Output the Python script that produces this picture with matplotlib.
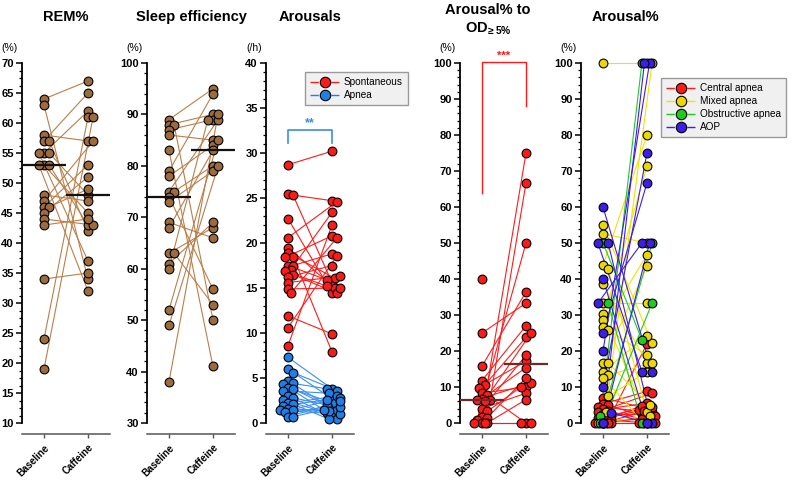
import matplotlib.pyplot as plt
import numpy as np
from matplotlib.ticker import MultipleLocator
from matplotlib.lines import Line2D

plt.rcParams['font.family'] = ['Liberation Sans', 'DejaVu Sans']
plt.rcParams['mathtext.fontset'] = 'custom'
plt.rcParams['mathtext.rm'] = 'Liberation Sans'
plt.rcParams['mathtext.bf'] = 'Liberation Sans:bold'

groups = ['Baseline', 'Caffeine']

# REM% (paired by index)
rem_base = [64, 63, 58, 57, 57, 55, 55, 55, 53, 53, 53, 48, 47, 46, 46, 45, 44, 43, 34, 24, 19]
rem_caff = [67, 34, 57, 65, 42, 62, 48, 37, 45, 43, 32, 47, 57, 53, 49, 51, 43, 44, 35, 61, 61]

# Sleep efficiency
se_base = [89, 88, 88, 87, 86, 83, 79, 78, 75, 75, 74, 73, 69, 68, 63, 63, 61, 60, 52, 49, 38]
se_caff = [95, 90, 50, 89, 85, 41, 94, 84, 89, 80, 56, 79, 66, 83, 68, 53, 69, 89, 85, 80, 90]

# Arousals (/h)
spont_base = [28.7, 25.4, 25.3, 22.7, 20.6, 19.5, 18.9, 18.5, 18.4, 17.5, 17.5, 17.0, 16.9, 16.5, 16.2, 15.6, 14.9, 14.4, 11.9, 10.6, 8.6]
spont_caff = [30.2, 24.7, 15.6, 14.5, 24.6, 15.0, 16.1, 7.9, 20.8, 15.9, 18.8, 23.4, 15.2, 14.4, 17.5, 16.3, 15.0, 20.6, 9.9, 18.6, 22.0]
apnea_base = [7.3, 6.0, 5.6, 4.7, 4.4, 4.3, 3.9, 3.8, 3.6, 3.0, 2.8, 2.6, 2.2, 2.1, 1.9, 1.6, 1.5, 1.4, 1.2, 0.7, 0.7]
apnea_caff = [3.8, 2.7, 3.6, 1.6, 3.8, 0.9, 2.2, 1.4, 3.3, 0.5, 2.0, 1.1, 3.0, 0.4, 2.6, 1.3, 2.8, 1.0, 1.8, 2.4, 1.5]

# Arousal% to OD>=5%
od_base = [40, 25, 15.8, 11.8, 10.5, 9.8, 8.3, 7.7, 6.7, 6.5, 6.5, 6.2, 4.0, 3.2, 1.8, 1.5, 0.8, 0, 0, 0, 0]
od_caff = [np.nan, 33.3, 36.4, 27, 23.8, 17.2, 10.0, 0, 15.4, 11.1, 18.8, 25, 8.3, 10.0, 75, 66.7, 50, 12.5, 6.5, 0, 0]

# Arousal% by event type
central_base = [7.0, 5.3, 5.0, 4.5, 3.8, 3.3, 3.0, 2.5, 2.0, 1.5, 1.2, 0.8, 0.5, 0, 0, 0, 0, 0]
central_caff = [4.0, 8.8, 1.5, 3.0, 5.5, 0.5, 8.3, 2.5, 22.0, 4.5, 3.5, 0, 1.0, 4.8, 2.0, 0, 3.2, 0]
mixed_base = [100, 55, 52.6, 43.8, 42.9, 38.5, 33.3, 30.3, 28.6, 26.7, 25.9, 16.7, 16.7, 14.3, 13.3, 12.5, 7.4, 3.0, 0]
mixed_caff = [100, 22.2, 50, 80, 3.0, 16.7, 33.3, 0, 71.4, 46.7, 18.8, 43.5, 5.0, 24.2, 16.7, 0, 14.3, 100, 2.0]
obstr_base = [50, 33.3, 2.0, 0, 0]
obstr_caff = [23.1, 0, 100, 50, 33.3]
aop_base = [60, 50, 50, 40, 33.3, 25, 20, 10, 2.9, 0, 0]
aop_caff = [14.3, 0, 14.3, 0, 50, 66.7, 100, 75, 0, 100, 50]

BROWN = '#9c6b3e'
BROWN_L = '#b97f4a'
RED = '#ff1a1a'
BLUE = '#1f7fe6'
YEL = '#ecd800'
GRN = '#1ecb1e'
AOP = '#3c1ee8'

W, H = 798, 488
fig = plt.figure(figsize=(W / 100, H / 100), dpi=100)

AX_W = 88
AX_TOP, AX_BOT = 63, 423


def make_ax(left):
    return fig.add_axes([left / W, 1 - AX_BOT / H, AX_W / W, (AX_BOT - AX_TOP) / H])


def swarm(vals, ppu, xppu=AX_W / 2, diam=8.5):
    placed, offs = [], []
    for v in vals:
        if np.isnan(v):
            offs.append(0.0)
            continue
        y = v * ppu
        best, best_d = 0.0, -1
        for k in (0, 1, -1, 2, -2, 3, -3):
            x = k * 0.3 * diam
            d = min((np.hypot(x - a, y - b) for a, b in placed), default=1e9)
            if d >= 0.6 * diam:
                best = x
                break
            if d > best_d:
                best, best_d = x, d
        placed.append((best, y))
        offs.append(best / xppu)
    return np.array(offs)


def style(ax, ymin, ymax, major, minor, unit):
    ax.set_xlim(-0.5, 1.5)
    ax.set_ylim(ymin, ymax)
    for s in ('top', 'right'):
        ax.spines[s].set_visible(False)
    ax.spines['bottom'].set_position(('outward', 8))
    ax.spines['bottom'].set_color('#555555')
    ax.spines['bottom'].set_linewidth(1.1)
    ax.spines['left'].set_linewidth(1.3)
    ax.yaxis.set_major_locator(MultipleLocator(major))
    ax.yaxis.set_minor_locator(MultipleLocator(minor))
    ax.tick_params(axis='y', which='major', length=4, width=1.1, labelsize=8, pad=2)
    ax.tick_params(axis='y', which='minor', length=2.2, width=0.9)
    ax.set_xticks([0, 1])
    ax.set_xticklabels(groups, rotation=45, ha='right', rotation_mode='anchor',
                       fontsize=7, fontweight='bold')
    ax.tick_params(axis='x', length=3, width=1, color='#555555', pad=3)
    ax.annotate(unit, xy=(0, 1), xycoords='axes fraction', xytext=(-3, 11),
                textcoords='offset points', ha='right', va='center', fontsize=7.5)


def paired(ax, base, caff, face, line, ppu):
    base = np.asarray(base, float)
    caff = np.asarray(caff, float)
    xb = 0 + swarm(base, ppu)
    xc = 1 + swarm(caff, ppu)
    for i in range(len(base)):
        if np.isnan(base[i]) or np.isnan(caff[i]):
            continue
        ax.plot([xb[i], xc[i]], [base[i], caff[i]], color=line, lw=0.8, zorder=2, clip_on=False)
    ax.scatter(xb, base, s=40, c=face, edgecolors='black', linewidths=0.8, zorder=3, clip_on=False)
    ax.scatter(xc, caff, s=40, c=face, edgecolors='black', linewidths=0.8, zorder=3, clip_on=False)


def medians(ax, base, caff, color):
    ax.hlines(np.nanmedian(base), -0.5, 0.5, color=color, lw=1.6, zorder=4, clip_on=False)
    ax.hlines(np.nanmedian(caff), 0.5, 1.5, color=color, lw=1.6, zorder=4, clip_on=False)


def title(x, y, s):
    fig.text(x / W, 1 - y / H, s, ha='center', va='center', fontsize=10.5, fontweight='bold')


def legend_handle(face, line):
    return Line2D([], [], color=line, lw=1.0, linestyle=(0, (6, 9)), marker='o',
                  markersize=7.5, markerfacecolor=face, markeredgecolor='black', markeredgewidth=0.8)


leg_kw = dict(loc='upper left', bbox_transform=fig.transFigure, fancybox=False,
              facecolor='#f0f0f0', edgecolor='#9a9a9a', framealpha=1, fontsize=7.2,
              handlelength=2.9, handletextpad=0.5, labelspacing=0.3, borderpad=0.5,
              borderaxespad=0)

PPU = (AX_BOT - AX_TOP)

# Panel 1: REM%
ax1 = make_ax(22)
style(ax1, 10, 70, 5, 1.25, '(%)')
paired(ax1, rem_base, rem_caff, BROWN, BROWN_L, PPU / 60)
medians(ax1, rem_base, rem_caff, '#111111')
title(66, 17, 'REM%')

# Panel 2: Sleep efficiency
ax2 = make_ax(147)
style(ax2, 30, 100, 10, 2, '(%)')
paired(ax2, se_base, se_caff, BROWN, BROWN_L, PPU / 70)
medians(ax2, se_base, se_caff, '#111111')
title(191, 17, 'Sleep efficiency')

# Panel 3: Arousals
ax3 = make_ax(266)
style(ax3, 0, 40, 5, 1, '(/h)')
paired(ax3, spont_base, spont_caff, RED, RED, PPU / 40)
paired(ax3, apnea_base, apnea_caff, BLUE, '#3a8ff0', PPU / 40)
ax3.plot([0, 0, 1, 1], [31.1, 32.6, 32.6, 31.1], color='#3b8de6', lw=1.2, zorder=3)
ax3.text(0.5, 32.7, '**', color='#3b8de6', ha='center', va='bottom', fontsize=9, fontweight='bold')
title(310, 17, 'Arousals')
ax3.legend([legend_handle(RED, RED), legend_handle(BLUE, BLUE)], ['Spontaneous', 'Apnea'],
           bbox_to_anchor=(305 / W, 1 - 72 / H), **leg_kw)

# Panel 4: Arousal% to OD>=5%
ax4 = make_ax(460)
style(ax4, 0, 100, 10, 2, '(%)')
paired(ax4, od_base, od_caff, RED, RED, PPU / 100)
medians(ax4, od_base, od_caff, '#6e2a2a')
ax4.plot([0, 0, 1, 1], [64, 100.4, 100.4, 88], color=RED, lw=1.0, zorder=3, clip_on=False)
ax4.text(0.5, 100.6, '***', color=RED, ha='center', va='bottom', fontsize=8, fontweight='bold')
fig.text(488 / W, 1 - 10 / H, 'Arousal% to', ha='center', va='center', fontsize=10.5, fontweight='bold')
fig.text(488 / W, 1 - 29 / H, r'$\mathbf{OD}_{\!\mathbf{\geq 5\%}}$', ha='center', va='center',
         fontsize=10.5, fontweight='bold')

# Panel 5: Arousal% by type
ax5 = make_ax(581)
style(ax5, 0, 100, 10, 2, '(%)')
types = [(central_base, central_caff, RED, RED),
         (mixed_base, mixed_caff, YEL, '#f2e200'),
         (obstr_base, obstr_caff, GRN, GRN),
         (aop_base, aop_caff, AOP, AOP)]
all_b = np.concatenate([np.asarray(t[0], float) for t in types])
all_c = np.concatenate([np.asarray(t[1], float) for t in types])
ob = swarm(all_b, PPU / 100)
oc = swarm(all_c, PPU / 100)
start = 0
segs = []
for b, c, face, line in types:
    n = len(b)
    segs.append((np.asarray(b, float), np.asarray(c, float), ob[start:start + n],
                 1 + oc[start:start + n], face, line))
    start += n
for b, c, xb, xc, face, line in segs:
    for i in range(len(b)):
        ax5.plot([xb[i], xc[i]], [b[i], c[i]], color=line, lw=0.8, zorder=2, clip_on=False)
for b, c, xb, xc, face, line in segs:
    ax5.scatter(xb, b, s=40, c=face, edgecolors='black', linewidths=0.8, zorder=3, clip_on=False)
    ax5.scatter(xc, c, s=40, c=face, edgecolors='black', linewidths=0.8, zorder=3, clip_on=False)
title(625, 17, 'Arousal%')
ax5.legend([legend_handle(RED, RED), legend_handle(YEL, '#f2e200'), legend_handle(GRN, GRN),
            legend_handle(AOP, AOP)],
           ['Central apnea', 'Mixed apnea', 'Obstructive apnea', 'AOP'],
           bbox_to_anchor=(661 / W, 1 - 78 / H), **leg_kw)

# bold y tick labels (after ticks exist)
fig.canvas.draw()
for ax in (ax1, ax2, ax3, ax4, ax5):
    for lab in ax.get_yticklabels():
        lab.set_fontweight('bold')

fig.savefig('out.png', dpi=100)
